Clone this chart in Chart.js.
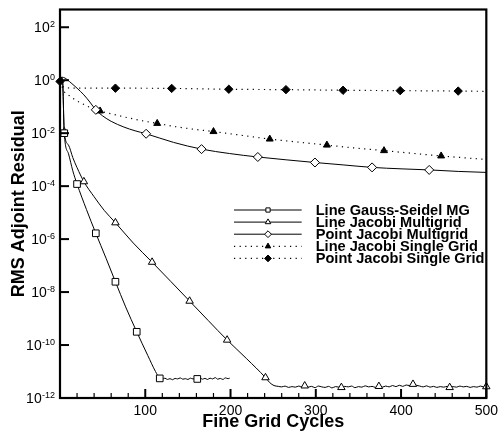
<!DOCTYPE html>
<html>
<head>
<meta charset="utf-8">
<script src="https://cdn.jsdelivr.net/npm/chart.js@4.4.0/dist/chart.umd.min.js"></script>
<style>
  html, body { margin: 0; padding: 0; background: #fff; }
  canvas { display: block; }
</style>
</head>
<body>
<canvas id="chart" width="503" height="433"></canvas>
<script>
const FONT = '"Liberation Sans", Arial, Helvetica, sans-serif';

// Line Gauss-Seidel MG
const gsCycles = [0, 1.5, 3, 5, 10, 15, 20, 31, 42, 54, 65, 77, 90, 103, 112, 117,
  120, 123, 126, 129, 132, 135, 138, 141, 144, 147, 150, 153, 156, 159, 161, 164,
  167, 170, 173, 176, 179, 182, 185, 188, 191, 194, 197, 199];
const gsResidual = [1.0, 1.26, 1.0, 1.0e-2, 1.66e-3, 3.8e-4, 1.2e-4, 1.32e-5, 1.66e-6,
  1.9e-7, 2.45e-8, 2.75e-9, 3.16e-10, 4.0e-11, 1.0e-11, 5.5e-12,
  5.13e-12, 5.62e-12, 5.01e-12, 5.37e-12, 4.9e-12, 5.5e-12, 5.25e-12, 5.75e-12,
  5.13e-12, 5.37e-12, 5.01e-12, 5.62e-12, 5.25e-12, 5.37e-12, 5.25e-12, 5.75e-12,
  5.13e-12, 5.5e-12, 5.01e-12, 5.62e-12, 5.25e-12, 5.89e-12, 5.13e-12, 5.5e-12,
  5.01e-12, 5.75e-12, 5.37e-12, 5.62e-12];
const gsMarkerCycles = [5, 20, 42, 65, 90, 117, 161];

// Line Jacobi Multigrid
const ljmCycles = [0, 1.5, 3, 5, 10, 15, 20, 28, 40, 52, 65, 86, 108, 130, 152, 174,
  196, 219, 241, 246, 251, 256,
  260, 264, 268, 272, 276, 280, 284, 287, 291, 295, 299, 303, 307, 311, 315, 319,
  323, 327, 330, 334, 338, 342, 346, 350, 354, 358, 362, 366, 370, 374, 378, 382,
  386, 390, 394, 398, 402, 406, 410, 414, 418, 422, 426, 430, 434, 438, 442, 446,
  450, 454, 457, 461, 465, 469, 473, 477, 481, 485, 489, 493, 497, 500];
const ljmResidual = [1.0, 1.26, 1.0, 1.12e-2, 3.55e-3, 1.2e-3, 5.0e-4, 1.48e-4, 3.98e-5,
  1.2e-5, 4.17e-6, 7.08e-7, 1.35e-7, 2.51e-8, 4.57e-9, 8.32e-10, 1.55e-10, 3.02e-11,
  5.89e-12, 3.8e-12, 2.95e-12, 2.75e-12,
  2.63e-12, 2.82e-12, 2.51e-12, 2.69e-12, 2.57e-12, 2.82e-12, 2.63e-12, 2.88e-12,
  2.57e-12, 2.75e-12, 2.45e-12, 2.82e-12, 2.63e-12, 2.51e-12, 2.75e-12, 2.40e-12,
  2.69e-12, 2.57e-12, 2.51e-12, 2.75e-12, 2.63e-12, 2.82e-12, 2.45e-12, 2.69e-12,
  2.57e-12, 2.88e-12, 2.63e-12, 2.75e-12, 2.51e-12, 2.75e-12, 2.57e-12, 2.82e-12,
  2.63e-12, 2.95e-12, 2.69e-12, 3.02e-12, 2.75e-12, 3.09e-12, 2.95e-12, 3.31e-12,
  3.02e-12, 2.82e-12, 2.63e-12, 2.88e-12, 2.57e-12, 2.75e-12, 2.51e-12, 2.69e-12,
  2.57e-12, 2.75e-12, 2.51e-12, 2.69e-12, 2.57e-12, 2.82e-12, 2.63e-12, 2.75e-12,
  2.51e-12, 2.69e-12, 2.57e-12, 2.82e-12, 2.63e-12, 2.69e-12];
const ljmMarkerCycles = [5, 28, 65, 108, 152, 196, 241, 287, 330, 374, 414, 457, 500];

// Point Jacobi Multigrid
const pjmCycles = [0, 2, 6, 13, 20, 28, 35, 42, 50, 60, 75, 88, 101, 133, 166, 199,
  232, 266, 299, 333, 366, 400, 433, 467, 500];
const pjmResidual = [1.0, 1.3, 1.2, 0.79, 0.5, 0.28, 0.15, 0.076, 0.045, 0.028, 0.017,
  0.0123, 0.0095, 0.0045, 0.0025, 0.0017, 0.00126, 9.8e-4, 7.8e-4, 6.3e-4, 5.1e-4,
  4.5e-4, 4.1e-4, 3.6e-4, 3.3e-4];
const pjmMarkerCycles = [42, 101, 166, 232, 299, 366, 433];

// Line Jacobi Single Grid
const ljsCycles = [0, 5, 11, 18, 25, 35, 47, 60, 80, 95, 114, 145, 180, 213, 246, 280,
  313, 346, 380, 413, 447, 475, 500];
const ljsResidual = [0.9, 0.37, 0.26, 0.178, 0.135, 0.095, 0.069, 0.054, 0.038, 0.030,
  0.0234, 0.0158, 0.0115, 0.0083, 0.006, 0.00457, 0.00355, 0.00275, 0.00219, 0.00174,
  0.00138, 0.00117, 0.00102];
const ljsMarkerCycles = [47, 114, 180, 246, 313, 380, 447];

// Point Jacobi Single Grid
const pjsCycles = [0, 4, 8, 65, 131, 198, 265, 332, 399, 467, 500];
const pjsResidual = [0.9, 0.56, 0.51, 0.50, 0.49, 0.455, 0.44, 0.417, 0.403, 0.389, 0.38];
const pjsMarkerCycles = [0, 65, 131, 198, 265, 332, 399, 467];

const seriesLabels = [
  'Line Gauss-Seidel MG',
  'Line Jacobi Multigrid',
  'Point Jacobi Multigrid',
  'Line Jacobi Single Grid',
  'Point Jacobi Single Grid'
];
const xTickValues = [100, 200, 300, 400, 500];
const yTickExponents = [2, 0, -2, -4, -6, -8, -10, -12];

function makeSeries(label, xs, ys, marks, look) {
  return {
    label,
    data: xs.map((x, i) => ({ x, y: ys[i] })),
    borderColor: '#000',
    borderWidth: look.dotted ? 1.2 : 1,
    borderDash: look.dotted ? [1.2, 4.4] : [],
    cubicInterpolationMode: 'monotone',
    pointStyle: look.shape,
    pointRadius: ctx => (ctx.raw && marks.includes(ctx.raw.x)) ? look.size : 0,
    pointHoverRadius: 0,
    pointBorderColor: '#000',
    pointBackgroundColor: look.filled ? '#000' : '#fff',
    pointBorderWidth: 1,
    legendSize: look.legendSize,
    clip: false
  };
}

const datasets = [
  makeSeries(seriesLabels[0], gsCycles, gsResidual, gsMarkerCycles,
    { shape: 'rect', size: 4.7, legendSize: 3.0, filled: false, dotted: false }),
  makeSeries(seriesLabels[1], ljmCycles, ljmResidual, ljmMarkerCycles,
    { shape: 'triangle', size: 4.3, legendSize: 3.2, filled: false, dotted: false }),
  makeSeries(seriesLabels[2], pjmCycles, pjmResidual, pjmMarkerCycles,
    { shape: 'rectRot', size: 4.5, legendSize: 3.4, filled: false, dotted: false }),
  makeSeries(seriesLabels[3], ljsCycles, ljsResidual, ljsMarkerCycles,
    { shape: 'triangle', size: 4.0, legendSize: 3.2, filled: true, dotted: true }),
  makeSeries(seriesLabels[4], pjsCycles, pjsResidual, pjsMarkerCycles,
    { shape: 'rectRot', size: 4.2, legendSize: 3.4, filled: true, dotted: true })
];

// Box frame, inward tick marks and superscripted decade labels
const frameAndTicks = {
  id: 'frameAndTicks',
  afterDatasetsDraw(chart) {
    const { ctx, chartArea: a, scales: { x, y } } = chart;
    const seg = (x1, y1, x2, y2) => { ctx.beginPath(); ctx.moveTo(x1, y1); ctx.lineTo(x2, y2); ctx.stroke(); };
    ctx.save();
    ctx.strokeStyle = '#000';
    ctx.setLineDash([]);
    ctx.lineWidth = 1.2;
    for (let v = 20; v < 500; v += 20) {
      if (v % 100 === 0) continue;
      const px = x.getPixelForValue(v);
      seg(px, a.bottom, px, a.bottom - 5);
    }
    ctx.lineWidth = 2;
    xTickValues.forEach(v => {
      const px = x.getPixelForValue(v);
      seg(px, a.bottom, px, a.bottom - 9);
    });
    yTickExponents.forEach(e => {
      const py = y.getPixelForValue(Math.pow(10, e));
      seg(a.left, py, a.left + 9, py);
    });
    ctx.lineWidth = 2.2;
    ctx.strokeRect(a.left, a.top, a.right - a.left, a.bottom - a.top);

    ctx.fillStyle = '#000';
    yTickExponents.forEach(e => {
      const py = y.getPixelForValue(Math.pow(10, e));
      const exp = String(e);
      ctx.font = '9px ' + FONT;
      const we = ctx.measureText(exp).width;
      const xe = 55 - we;
      ctx.textAlign = 'left';
      ctx.textBaseline = 'alphabetic';
      ctx.fillText(exp, xe, py - 0.5);
      ctx.font = '14px ' + FONT;
      ctx.textAlign = 'right';
      ctx.fillText('10', xe - 0.3, py + 5);
    });
    ctx.restore();
  }
};

// Legend box inside the plot area
const insetLegend = {
  id: 'insetLegend',
  afterDraw(chart) {
    const { ctx } = chart;
    const top = 210, step = 12.1;
    const x1 = 234, x2 = 301.7, xm = 268, xt = 315.7;
    ctx.save();
    chart.data.datasets.forEach((ds, i) => {
      const yy = top + i * step;
      ctx.strokeStyle = '#000';
      ctx.lineWidth = ds.borderWidth;
      ctx.setLineDash(ds.borderDash);
      ctx.beginPath(); ctx.moveTo(x1, yy); ctx.lineTo(x2, yy); ctx.stroke();
      ctx.setLineDash([]);
      ctx.lineWidth = 1;
      ctx.fillStyle = ds.pointBackgroundColor;
      ctx.strokeStyle = '#000';
      Chart.helpers.drawPoint(ctx, {
        pointStyle: ds.pointStyle, rotation: 0, radius: ds.legendSize, borderWidth: 1
      }, xm, yy);
      ctx.fillStyle = '#000';
      ctx.font = 'bold 14.6px ' + FONT;
      ctx.textAlign = 'left';
      ctx.textBaseline = 'middle';
      ctx.fillText(ds.label, xt, yy + 0.5);
    });
    ctx.restore();
  }
};

new Chart(document.getElementById('chart'), {
  type: 'line',
  data: { datasets },
  options: {
    responsive: false,
    animation: false,
    devicePixelRatio: 1,
    events: [],
    layout: { padding: { top: 9.5, right: 12, left: 0, bottom: 0 } },
    plugins: { legend: { display: false }, tooltip: { enabled: false } },
    scales: {
      x: {
        type: 'linear', min: 0, max: 500,
        afterBuildTicks: s => { s.ticks = xTickValues.map(v => ({ value: v })); },
        ticks: { font: { family: FONT, size: 14 }, color: '#000', padding: 5, maxRotation: 0, autoSkip: false },
        grid: { display: false, drawTicks: false },
        border: { display: false },
        title: {
          display: true, text: 'Fine Grid Cycles', color: '#000',
          font: { family: FONT, size: 18, weight: 'bold' }, padding: { top: 0, bottom: 0 }
        },
        afterFit: s => { s.height = 35; }
      },
      y: {
        type: 'logarithmic', min: 1e-12, max: Math.pow(10, 2.67),
        afterBuildTicks: s => { s.ticks = yTickExponents.map(e => ({ value: Math.pow(10, e) })); },
        ticks: { display: false },
        grid: { display: false, drawTicks: false },
        border: { display: false },
        title: {
          display: true, text: 'RMS Adjoint Residual', color: '#000',
          font: { family: FONT, size: 18, weight: 'bold' }, padding: { top: 8, bottom: 0 }
        },
        afterFit: s => { s.width = 60; }
      }
    }
  },
  plugins: [frameAndTicks, insetLegend]
});
</script>
</body>
</html>
